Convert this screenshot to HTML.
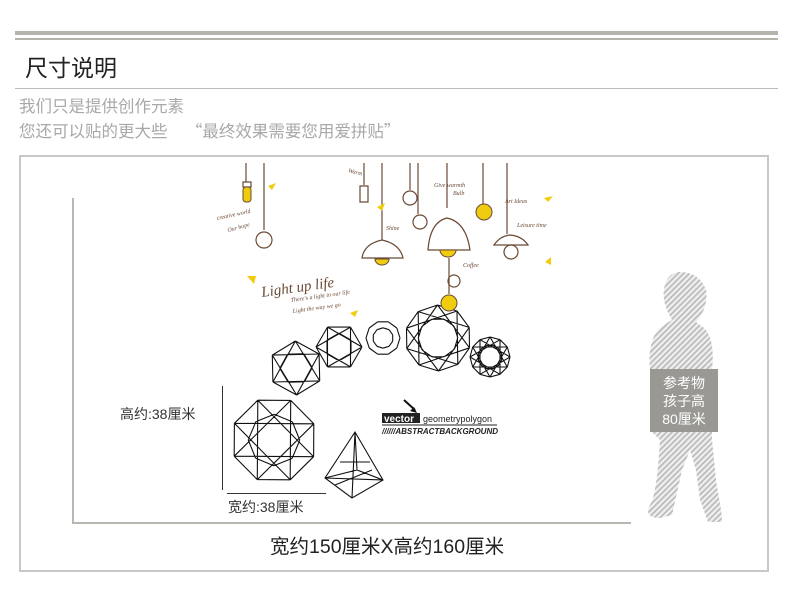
<!DOCTYPE html>
<html><head><meta charset="utf-8"><style>
body{margin:0;width:790px;height:590px;background:#fff;position:relative;overflow:hidden;font-family:"Liberation Sans","Noto Sans CJK SC",sans-serif}
.a{position:absolute;white-space:nowrap}
</style></head><body>
<div class="a" style="left:15px;top:31px;width:763px;height:4px;background:#b5b5ae"></div>
<div class="a" style="left:15px;top:38px;width:763px;height:2px;background:#b5b5ae"></div>
<div class="a" style="left:25px;top:49px;font-size:23px;color:#222">尺寸说明</div>
<div class="a" style="left:15px;top:88px;width:763px;height:1px;background:#bbb"></div>
<div class="a" style="left:19px;top:96px;font-size:16.5px;color:#a8a8a8;line-height:23px">我们只是提供创作元素<br>您还可以贴的更大些&nbsp;&nbsp;&nbsp;&nbsp;<span style="font-family:'Noto Sans CJK SC',sans-serif">“最终效果需要您用爱拼贴”</span></div>
<div class="a" style="left:19px;top:155px;width:746px;height:413px;border:2px solid #c8c8c8"></div>
<div class="a" style="left:72px;top:198px;width:2px;height:324px;background:#b8b8b0"></div>
<div class="a" style="left:72px;top:522px;width:559px;height:2px;background:#b8b8b0"></div>
<div class="a" style="left:270px;top:530px;font-size:19.5px;color:#222">宽约150厘米X高约160厘米</div>
<div class="a" style="left:222px;top:386px;width:1px;height:104px;background:#333"></div>
<div class="a" style="left:227px;top:493px;width:99px;height:1px;background:#333"></div>
<div class="a" style="left:120px;top:404px;font-size:14px;color:#333">高约:38厘米</div>
<div class="a" style="left:228px;top:497px;font-size:14px;color:#333">宽约:38厘米</div>
<svg class="a" style="left:0;top:0" width="790" height="590" id="s">
<defs><pattern id="h" width="4" height="4" patternUnits="userSpaceOnUse" patternTransform="rotate(45)"><rect width="4" height="4" fill="#eeeeee"/><rect width="1.6" height="4" fill="#b8b8b8"/></pattern></defs>
<path fill="url(#h)" d="M680 272 C668 272 662 285 664 300 C666 310 670 316 672 320 L662 326 C652 334 648 350 650 370 L652 432 L660 440 C658 470 656 495 650 505 C646 512 648 518 660 518 L672 515 L682 470 L690 450 L696 470 L700 500 L708 522 L722 522 C722 510 718 495 716 480 L712 440 L712 370 C714 350 712 336 704 328 L696 322 C704 314 708 300 706 290 C702 278 692 272 680 272Z"/>
<rect x="650" y="369" width="68" height="63" fill="#999893"/>
<text x="684" y="388" font-size="14" fill="#fff" text-anchor="middle">参考物</text>
<text x="684" y="406" font-size="14" fill="#fff" text-anchor="middle">孩子高</text>
<text x="684" y="424" font-size="14" fill="#fff" text-anchor="middle">80厘米</text>
<g id="poly" fill="none" stroke="#111" stroke-width="1.1"></g>
<g stroke="#6b4a35" fill="none" stroke-width="1.2">
<path d="M246 163 V182 M264 163 V230 M364 163 V185 M382 163 V240 M410 163 V190 M418 163 V214 M447 163 V208 M449 258 V294 M483 163 V204 M507 163 V234"/>
<path d="M362 258 Q364 244 382 240 Q400 244 403 258 Z M428 250 Q430 222 447 218 Q466 222 470 250 Z M494 245 Q500 236 510 235 Q522 236 528 245 Z"/>
<circle cx="264" cy="240" r="8"/><circle cx="410" cy="198" r="7"/><circle cx="420" cy="222" r="7"/><circle cx="454" cy="281" r="6"/><circle cx="511" cy="252" r="7"/>
<path d="M360 186 h8 v16 h-8z M243 182 h8 v5 h-8z"/>
</g>
<g fill="#f0cc10" stroke="#6b4a35" stroke-width="1"><rect x="243" y="187" width="8" height="15" rx="3"/><circle cx="484" cy="212" r="8"/><circle cx="449" cy="303" r="8"/><path d="M375 259 a7 6 0 0 0 14 0z M440 250 a8 7 0 0 0 16 0z"/></g>
<g fill="#f0cc10"><path d="M268 186 l8 -3 -4 7z M377 207 l8 -4 -3 8z M545 262 l6 -5 0 8z M544 198 l9 -2 -5 6z M350 313 l8 -3 -3 7z M247 276 l9 0 -2 8z"/></g>
<g font-size="6" fill="#6b4a35" font-family="Liberation Serif,serif" font-style="italic">
<text x="217" y="220" transform="rotate(-12 217 220)">creative world</text><text x="228" y="232" transform="rotate(-15 228 232)">Our hope</text>
<text x="348" y="172" transform="rotate(15 348 172)">Warm</text><text x="434" y="187">Give warmth</text><text x="453" y="195">Bulb</text>
<text x="386" y="230">Shine</text><text x="505" y="203">Art Ideas</text><text x="517" y="227">Leisure time</text><text x="463" y="267">Coffee</text>
<text x="291" y="302" transform="rotate(-8 291 302)">There's a light in our life</text><text x="293" y="313" transform="rotate(-8 293 313)">Light the way we go</text>
</g>
<text x="262" y="297" font-size="15" fill="#6b4a35" font-family="Liberation Serif,serif" font-style="italic" transform="rotate(-8 262 297)">Light up life</text>
<path d="M404 400 L415 410" stroke="#111" stroke-width="2"/><path d="M417 413 l-7 -2 4 -4z" fill="#111"/>
<rect x="382" y="413" width="38" height="10" fill="#222"/>
<text x="384" y="422" font-size="10" font-weight="bold" fill="#fff">vector</text>
<text x="423" y="422" font-size="9" fill="#222">geometrypolygon</text>
<line x1="382" y1="425" x2="497" y2="425" stroke="#222"/>
<text x="382" y="434" font-size="8" font-style="italic" font-weight="bold" fill="#222">//////ABSTRACTBACKGROUND</text>
</svg>
<script>
var g=document.getElementById('poly'),d='';
function P(cx,cy,r,n,rot,skip){var p=[];for(var i=0;i<n;i++){var a=rot+i*2*Math.PI/n;p.push([cx+r*Math.cos(a),cy+r*Math.sin(a)]);}
for(i=0;i<n;i++){var q=p[(i+1)%n];d+='M'+p[i][0].toFixed(1)+' '+p[i][1].toFixed(1)+'L'+q[0].toFixed(1)+' '+q[1].toFixed(1);
for(var k=0;k<skip.length;k++){q=p[(i+skip[k])%n];d+='M'+p[i][0].toFixed(1)+' '+p[i][1].toFixed(1)+'L'+q[0].toFixed(1)+' '+q[1].toFixed(1);}}
var ip=[];for(i=0;i<n;i++){a=rot+(i+.5)*2*Math.PI/n;ip.push([cx+r*.6*Math.cos(a),cy+r*.6*Math.sin(a)]);}
for(i=0;i<n;i++){q=ip[(i+1)%n];d+='M'+ip[i][0].toFixed(1)+' '+ip[i][1].toFixed(1)+'L'+q[0].toFixed(1)+' '+q[1].toFixed(1);}}
P(296,368,27,6,0.5,[2]);P(339,347,23,6,0,[2]);P(383,338,17,10,0,[]);P(438,338,33,10,0.3,[3]);P(490,357,20,12,0,[4]);P(274,440,43,8,0.4,[3]);
d+='M355 432L325 478L352 498L383 480ZM355 432L352 498M355 432L357 470M325 478L383 480M325 478L357 470L383 480M340 462L370 462M335 485L372 470';
var e=document.createElementNS('http://www.w3.org/2000/svg','path');e.setAttribute('d',d);g.appendChild(e);
</script>
</body></html>
